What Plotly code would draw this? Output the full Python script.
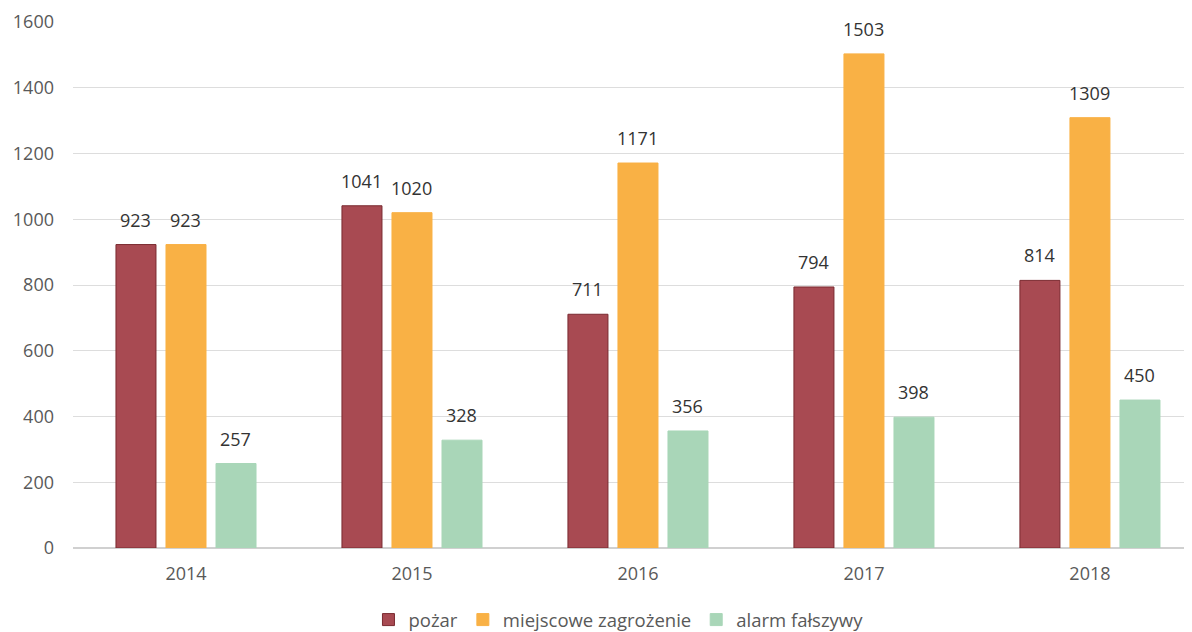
import plotly.graph_objects as go

years = ["2014", "2015", "2016", "2017", "2018"]
pozar = [923, 1041, 711, 794, 814]
miejscowe = [923, 1020, 1171, 1503, 1309]
alarm = [257, 328, 356, 398, 450]

series = [
    ("pożar", pozar, "#A84A52", "#7A2A30"),
    ("miejscowe zagrożenie", miejscowe, "#F9B145", "#F9B145"),
    ("alarm fałszywy", alarm, "#A9D6B8", "#A9D6B8"),
]

FONT = "Open Sans"
fig = go.Figure()
annotations = []
for i, (name, vals, col, line) in enumerate(series):
    fig.add_trace(go.Bar(
        x=years, y=vals, name=name,
        marker=dict(color=col, line=dict(color=line, width=1)),
    ))
    for k, v in enumerate(vals):
        annotations.append(dict(
            x=k, y=v, xref="x", yref="y", text=str(v), showarrow=False,
            xshift=(i - 1) * 50, yshift=11, yanchor="bottom",
            font=dict(family=FONT, size=18, color="#333333"),
        ))

fig.update_layout(
    width=1192, height=632,
    margin=dict(l=65, r=0, t=14, b=92),
    paper_bgcolor="white", plot_bgcolor="white",
    barmode="group", bargap=0.336, bargroupgap=0.2,
    font=dict(family=FONT, size=16, color="#595959"),
    showlegend=True,
    legend=dict(orientation="h", x=0.484, xanchor="center", y=-0.137, yanchor="middle",
                font=dict(family=FONT, size=18.5, color="#595959"), traceorder="normal"),
    yaxis=dict(range=[0, 1600], dtick=200, showgrid=True, gridcolor="#DDDDDD",
               gridwidth=1, zeroline=True, zerolinecolor="#D0D0D0", ticks="",
               tickfont=dict(family=FONT, size=18, color="#595959"),
               ticklabelstandoff=18, automargin=False),
    xaxis=dict(type="category", showgrid=False, ticks="", range=[-0.5, 4.487],
               tickfont=dict(family=FONT, size=18, color="#595959"),
               ticklabelstandoff=13, automargin=False),
    annotations=annotations,
)

fig.write_html("out.html")
